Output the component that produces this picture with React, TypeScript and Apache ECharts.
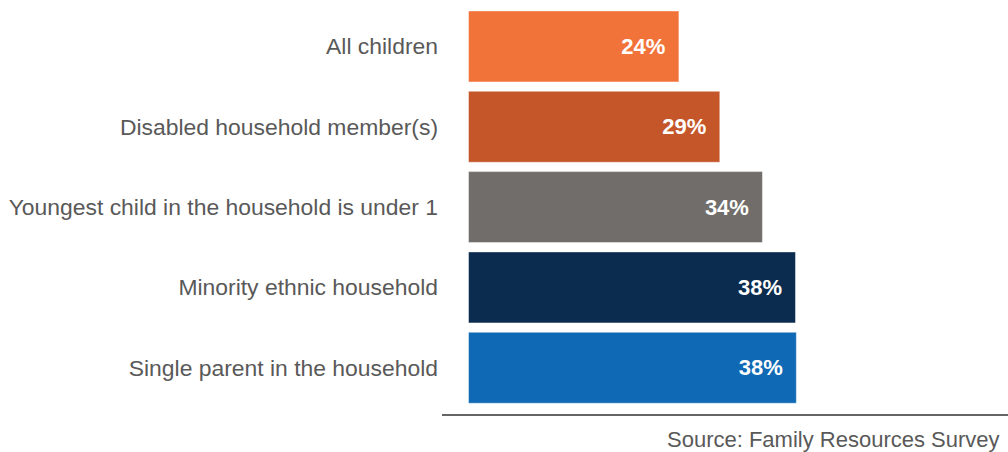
import React, { useEffect, useRef } from "react";
import * as echarts from "echarts";

const categories = [
  "All children",
  "Disabled household member(s)",
  "Youngest child in the household is under 1",
  "Minority ethnic household",
  "Single parent in the household",
];
const values = [24.3, 29.0, 33.9, 37.7, 37.8];
const barColors = ["#F2733A", "#C4562A", "#716D6B", "#0B2C4E", "#0F69B4"];
const sourceText = "Source: Family Resources Survey";

const FONT = "Arial, 'Liberation Sans', Helvetica, sans-serif";

export default function App() {
  const ref = useRef<HTMLDivElement>(null);
  useEffect(() => {
    if (!ref.current) return;
    const chart = echarts.init(ref.current, null, { renderer: "svg" });
    chart.setOption({
      animation: false,
      backgroundColor: "#ffffff",
      grid: { left: 468, top: 6.3, width: 435, height: 401.6 },
      xAxis: {
        type: "value",
        min: 0,
        max: 50,
        show: false,
      },
      yAxis: {
        type: "category",
        inverse: true,
        data: categories,
        axisLine: { show: false },
        axisTick: { show: false },
        axisLabel: {
          margin: 30,
          fontSize: 22.9,
          color: "#595959",
          fontFamily: FONT,
        },
      },
      series: [
        {
          type: "bar",
          barWidth: 72,
          data: values.map((v, i) => ({
            value: v,
            itemStyle: {
              color: barColors[i],
              borderColor: "rgba(255,255,255,0.45)",
              borderWidth: 1,
            },
          })),
          label: {
            show: true,
            position: "insideRight",
            distance: 14,
            formatter: (p: any) => Math.round(p.value) + "%",
            color: "#ffffff",
            fontWeight: "bold",
            fontSize: 22,
            fontFamily: FONT,
          },
        },
      ],
      graphic: [
        {
          type: "line",
          shape: { x1: 442, y1: 415, x2: 1008, y2: 415 },
          style: { stroke: "#666666", lineWidth: 2 },
        },
        {
          type: "text",
          x: 667,
          y: 439,
          style: {
            text: sourceText,
            fontSize: 22,
            fill: "#595959",
            fontFamily: FONT,
            verticalAlign: "middle",
            align: "left",
          },
        },
      ],
    });
    return () => chart.dispose();
  }, []);
  return (
    <div
      ref={ref}
      style={{ position: "fixed", left: 0, top: 0, width: 1008, height: 452 }}
    />
  );
}
